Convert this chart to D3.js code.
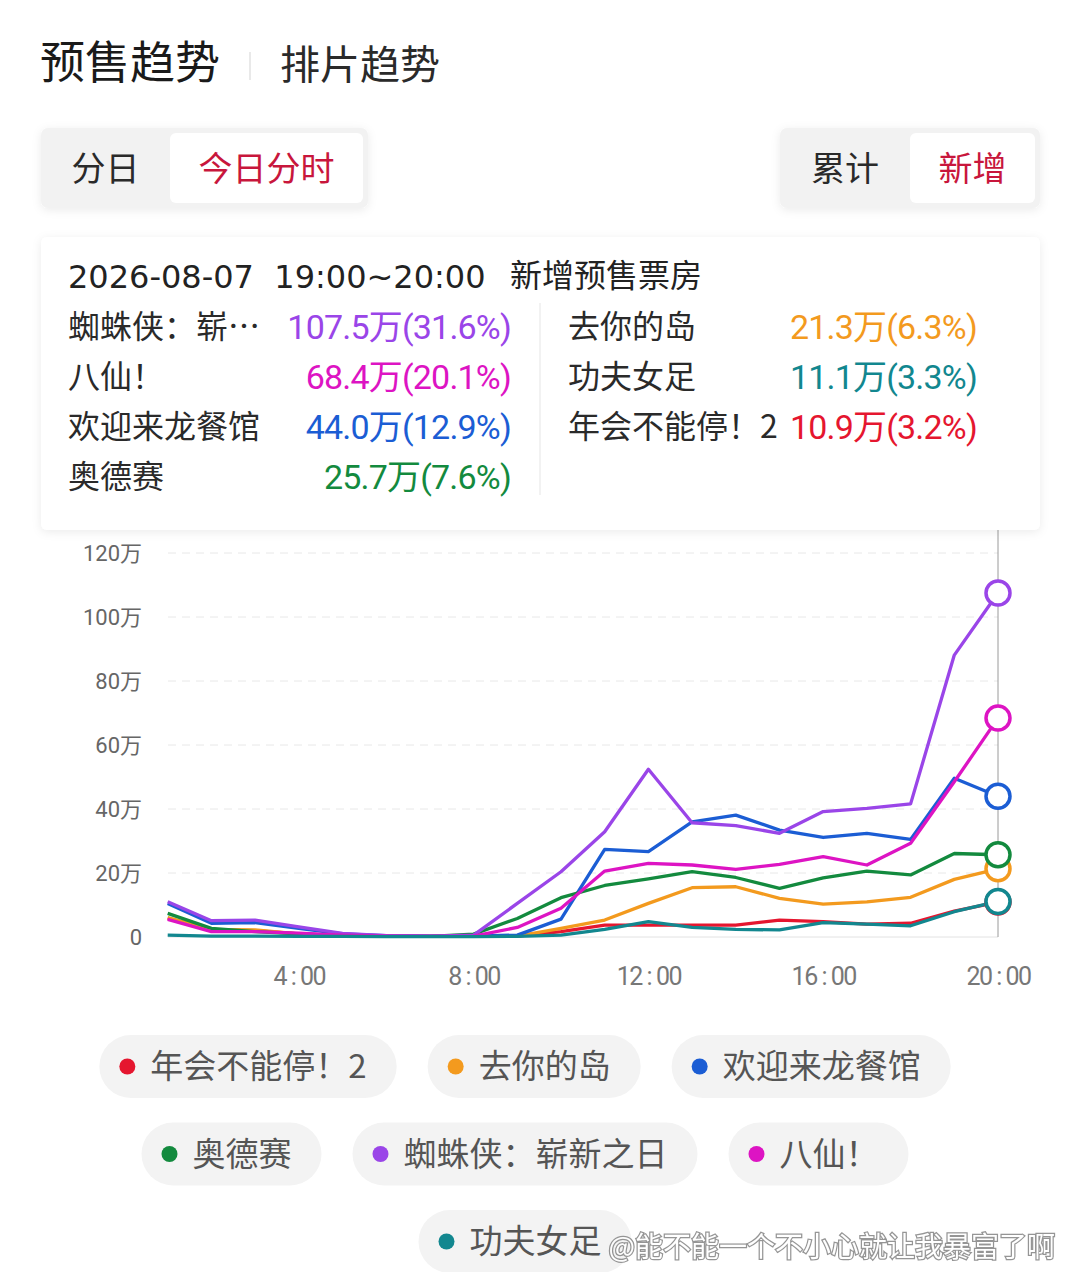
<!DOCTYPE html>
<html>
<head>
<meta charset="utf-8">
<script src="https://cdn.jsdelivr.net/npm/d3@7"></script>
<style>
  body { margin: 0; background: #fff; }
  svg { display: block; font-family: "Noto Sans CJK SC", "Noto Sans", sans-serif; }
</style>
</head>
<body>
<svg id="chart" width="1066" height="1272"></svg>
<script>
// hourly new presale box office (万), one point per hour
const hours = [1, 2, 3, 4, 5, 6, 7, 8, 9, 10, 11, 12, 13, 14, 15, 16, 17, 18, 19, 20];
const xTicks = [4, 8, 12, 16, 20];
const yTicks = [0, 20, 40, 60, 80, 100, 120];

const filmNames = ["年会不能停！2", "去你的岛", "欢迎来龙餐馆", "奥德赛", "蜘蛛侠：崭新之日", "八仙！", "功夫女足"];
const tipNames = ["年会不能停！2", "去你的岛", "欢迎来龙餐馆", "奥德赛", "蜘蛛侠：崭…", "八仙！", "功夫女足"];
const filmColors = ["#e5162f", "#f39a1e", "#1b5dd4", "#138a3e", "#9a45e8", "#dd14c3", "#12878f"];
const sharePct = [3.2, 6.3, 12.9, 7.6, 31.6, 20.1, 3.3];

const nianhui = [5.8, 2.2, 2.0, 1.0, 0.4, 0.2, 0.2, 0.3, 0.3, 1.7, 3.7, 3.7, 3.7, 3.7, 5.3, 4.8, 4.0, 4.3, 8.1, 10.9];
const quNiDeDao = [6.1, 2.4, 2.2, 1.0, 0.4, 0.2, 0.2, 0.2, 0.3, 2.7, 5.3, 10.5, 15.4, 15.7, 12.1, 10.3, 11.0, 12.4, 18.0, 21.3];
const longCanguan = [10.5, 4.3, 4.5, 2.7, 1.0, 0.4, 0.3, 0.3, 0.6, 5.6, 27.4, 26.7, 36.0, 38.1, 33.4, 31.1, 32.4, 30.5, 49.6, 44.0];
const odyssey = [7.4, 2.7, 1.7, 1.0, 0.4, 0.2, 0.2, 0.9, 5.8, 12.3, 16.1, 18.2, 20.4, 18.6, 15.2, 18.5, 20.6, 19.4, 26.1, 25.7];
const spiderman = [11.0, 5.1, 5.3, 3.2, 1.1, 0.4, 0.3, 0.6, 10.5, 20.4, 32.9, 52.4, 35.7, 34.8, 32.4, 39.2, 40.2, 41.6, 88.1, 107.5];
const baxian = [5.5, 1.7, 1.7, 1.2, 0.6, 0.3, 0.2, 0.3, 3.0, 9.0, 20.6, 23.0, 22.5, 21.1, 22.7, 25.1, 22.5, 29.3, 48.5, 68.4];
const kungfuGirls = [0.6, 0.3, 0.3, 0.2, 0.2, 0.1, 0.1, 0.1, 0.2, 0.6, 2.4, 4.8, 3.0, 2.4, 2.2, 4.5, 4.0, 3.5, 7.9, 11.1];

const seriesValues = [nianhui, quNiDeDao, longCanguan, odyssey, spiderman, baxian, kungfuGirls];
const series = filmNames.map((name, i) => ({
  name,
  tip: tipNames[i],
  color: filmColors[i],
  pct: sharePct[i],
  values: seriesValues[i]
}));

const svg = d3.select("#chart");
const accent = "#c8163c";

const defs = svg.append("defs");
const shadow = defs.append("filter").attr("id", "shadow")
  .attr("x", "-5%").attr("y", "-10%").attr("width", "110%").attr("height", "130%");
shadow.append("feDropShadow")
  .attr("dx", 0).attr("dy", 2).attr("stdDeviation", 5)
  .attr("flood-color", "#000").attr("flood-opacity", 0.08);

// ---- header tabs
svg.append("text").attr("x", 40).attr("y", 79)
  .attr("font-size", 45).attr("fill", "#1a1a1a").text("预售趋势");
svg.append("line").attr("x1", 250).attr("x2", 250).attr("y1", 52).attr("y2", 80)
  .attr("stroke", "#e2e2e2").attr("stroke-width", 1.5);
svg.append("text").attr("x", 280).attr("y", 79)
  .attr("font-size", 40).attr("fill", "#2a2a2a").text("排片趋势");

const segment = (x, w, split, left, right) => {
  svg.append("rect").attr("x", x).attr("y", 128).attr("width", w).attr("height", 80)
    .attr("rx", 7).attr("fill", "#f2f2f2").attr("filter", "url(#shadow)");
  svg.append("rect").attr("x", split).attr("y", 133).attr("width", x + w - 5 - split).attr("height", 70)
    .attr("rx", 6).attr("fill", "#fff");
  svg.append("text").attr("x", (x + split) / 2).attr("y", 181).attr("text-anchor", "middle")
    .attr("font-size", 34).attr("fill", "#2a2a2a").text(left);
  svg.append("text").attr("x", (split + x + w - 5) / 2).attr("y", 181).attr("text-anchor", "middle")
    .attr("font-size", 34).attr("fill", accent).text(right);
};
segment(41, 327, 170, "分日", "今日分时");
segment(780, 260, 910, "累计", "新增");

// ---- chart
const x = d3.scaleLinear().domain([0, 20]).range([124, 998]);
const y = d3.scaleLinear().domain([0, 120]).range([937, 553]);

const grid = svg.append("g");
grid.selectAll("line")
  .data(yTicks.filter((d) => d > 0))
  .join("line")
  .attr("x1", 168).attr("x2", 998)
  .attr("y1", (d) => y(d)).attr("y2", (d) => y(d))
  .attr("stroke", "#e8e8e8").attr("stroke-dasharray", "8,6");
grid.append("line")
  .attr("x1", 168).attr("x2", 998).attr("y1", y(0)).attr("y2", y(0))
  .attr("stroke", "#e2e2e2");

const yAxis = svg.append("g").attr("transform", "translate(142,0)")
  .call(d3.axisLeft(y).tickValues(yTicks).tickSize(0).tickPadding(0)
    .tickFormat((d) => (d === 0 ? "0" : d + "万")));
yAxis.select(".domain").remove();
yAxis.selectAll("text").attr("font-size", 22).attr("fill", "#666")
  .attr("font-family", "Roboto, 'Noto Sans CJK SC', sans-serif");

const xAxis = svg.append("g").attr("transform", "translate(0,967)")
  .call(d3.axisBottom(x).tickValues(xTicks).tickSize(0).tickPadding(0)
    .tickFormat((d) => d + " : 00"));
xAxis.select(".domain").remove();
xAxis.selectAll("text").attr("font-size", 25).attr("fill", "#777")
  .attr("font-family", "Roboto, 'Noto Sans CJK SC', sans-serif")
  .attr("xml:space", "preserve").attr("letter-spacing", -1.5);

// hover guide at the selected hour
svg.append("line").attr("x1", x(20)).attr("x2", x(20)).attr("y1", 528).attr("y2", y(0))
  .attr("stroke", "#9a9a9a").attr("stroke-width", 1);

const line = d3.line().x((d, i) => x(hours[i])).y((d) => y(d));
svg.append("g").selectAll("path")
  .data(series)
  .join("path")
  .attr("d", (d) => line(d.values))
  .attr("fill", "none")
  .attr("stroke", (d) => d.color)
  .attr("stroke-width", 3.3)
  .attr("stroke-linejoin", "round");

const last = hours.length - 1;
svg.append("g").selectAll("circle")
  .data(series)
  .join("circle")
  .attr("cx", x(hours[last]))
  .attr("cy", (d) => y(d.values[last]))
  .attr("r", 12)
  .attr("fill", "#fff")
  .attr("stroke", (d) => d.color)
  .attr("stroke-width", 3.5);

// ---- tooltip card
const card = svg.append("g");
card.append("rect").attr("x", 41).attr("y", 237).attr("width", 999).attr("height", 293)
  .attr("rx", 6).attr("fill", "#fff").attr("filter", "url(#shadow)");
card.append("text").attr("x", 68).attr("y", 288).attr("font-size", 32).attr("fill", "#222")
  .attr("font-family", "'DejaVu Sans', sans-serif")
  .attr("xml:space", "preserve")
  .text("2026-08-07  19:00~20:00");
card.append("text").attr("x", 510).attr("y", 287).attr("font-size", 32).attr("fill", "#222")
  .text("新增预售票房");
card.append("line").attr("x1", 540).attr("x2", 540).attr("y1", 303).attr("y2", 495)
  .attr("stroke", "#eeeeee").attr("stroke-width", 1.5);

const ranked = series.slice().sort((a, b) => b.values[last] - a.values[last]);
const rowY = [338, 388, 438, 488];
ranked.forEach((d, i) => {
  const col = i < 4 ? 0 : 1;
  const row = col === 0 ? i : i - 4;
  const nameX = col === 0 ? 68 : 568;
  const valX = col === 0 ? 511 : 977;
  card.append("text").attr("x", nameX).attr("y", rowY[row])
    .attr("font-size", 32).attr("fill", "#2a2a2a").text(d.tip);
  card.append("text").attr("x", valX).attr("y", rowY[row] + 1)
    .attr("text-anchor", "end").attr("font-size", 34).attr("fill", d.color)
    .attr("font-family", "Roboto, 'Noto Sans CJK SC', sans-serif")
    .attr("letter-spacing", -0.8)
    .text(`${d.values[last].toFixed(1)}万(${d.pct.toFixed(1)}%)`);
});

// ---- legend pills
const legend = svg.append("g");
const pills = legend.selectAll("g.pill")
  .data(series)
  .join("g")
  .attr("class", "pill");
pills.append("rect").attr("height", 63).attr("rx", 31.5).attr("fill", "#f3f3f3");
pills.append("circle").attr("cx", 28).attr("cy", 31.5).attr("r", 8).attr("fill", (d) => d.color);
pills.append("text").attr("x", 51).attr("y", 43).attr("font-size", 33).attr("fill", "#555")
  .text((d) => d.name);
pills.each(function () {
  const g = d3.select(this);
  const w = 51 + g.select("text").node().getComputedTextLength() + 30;
  g.select("rect").attr("width", w);
  this.__w = w;
});

const rows = [];
let cur = [];
let curW = 0;
pills.each(function () {
  const w = this.__w;
  if (cur.length && curW + 31 + w > 900) {
    rows.push(cur);
    cur = [];
    curW = 0;
  }
  curW += (cur.length ? 31 : 0) + w;
  cur.push(this);
});
rows.push(cur);
rows.forEach((row, r) => {
  const total = d3.sum(row, (n) => n.__w) + 31 * (row.length - 1);
  let px = 525 - total / 2;
  row.forEach((n) => {
    d3.select(n).attr("transform", `translate(${px},${1035 + r * 87.5})`);
    px += n.__w + 31;
  });
});

// watermark
svg.append("text").attr("x", 1055).attr("y", 1257).attr("text-anchor", "end")
  .attr("font-size", 28).attr("fill", "#fff").attr("stroke", "#8a8a8a").attr("stroke-width", 2.5)
  .attr("paint-order", "stroke").attr("opacity", 0.9)
  .text("@能不能一个不小心就让我暴富了啊");
</script>
</body>
</html>
